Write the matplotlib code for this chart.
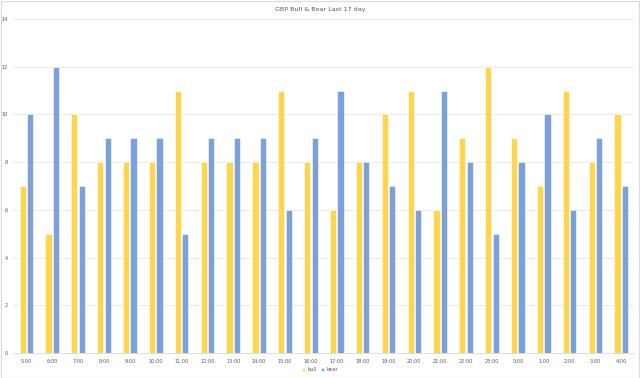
import numpy as np
import matplotlib.pyplot as plt

# Datos
horas = ["5:00", "6:00", "7:00", "8:00", "9:00", "10:00", "11:00", "12:00",
         "13:00", "14:00", "15:00", "16:00", "17:00", "18:00", "19:00", "20:00",
         "21:00", "22:00", "23:00", "0:00", "1:00", "2:00", "3:00", "4:00"]
bull = [7, 5, 10, 8, 8, 8, 11, 8, 8, 8, 11, 8, 6, 8, 10, 11, 6, 9, 12, 9, 7, 11, 8, 10]
bear = [10, 12, 7, 9, 9, 9, 5, 9, 9, 9, 6, 9, 11, 8, 7, 6, 11, 8, 5, 8, 10, 6, 9, 7]

col_bull = "#FFD54F"
col_bear = "#7CA0D8"
gris = "#595959"

fig = plt.figure(figsize=(6.4, 3.78), dpi=100)
ax = fig.add_axes([0.021, 0.066, 0.970, 0.884])

x = np.arange(len(horas))
ancho = 0.24
ax.bar(x - 0.145, bull, ancho, color=col_bull, edgecolor="white", linewidth=0.4,
       label="bull", zorder=3)
ax.bar(x + 0.145, bear, ancho, color=col_bear, edgecolor="white", linewidth=0.4,
       label="bear", zorder=3)

# Ejes
ax.set_xlim(-0.5, len(horas) - 0.5)
ax.set_ylim(0, 14)
ax.set_yticks(range(0, 15, 2))
ax.set_xticks(x)
ax.set_xticklabels(horas)
ax.tick_params(axis="both", length=0, labelsize=3.6, colors=gris, pad=4)
ax.grid(axis="y", color="#E6E6E6", linewidth=0.6, zorder=0)
for s in ["top", "right", "left"]:
    ax.spines[s].set_visible(False)
ax.spines["bottom"].set_color("#D9D9D9")
ax.spines["bottom"].set_linewidth(0.6)

fig.text(0.5, 0.975, "GBP Bull & Bear Last 17 day", ha="center", va="center",
         fontsize=4.6, color=gris)

fig.legend(loc="center", bbox_to_anchor=(0.5, 0.022), ncol=2, frameon=False,
           fontsize=3.6, handlelength=0.6, handleheight=0.6, columnspacing=1.0,
           handletextpad=0.4, labelcolor=gris)

# Borde del grafico
fig.patches.append(plt.Rectangle((0.001, 0.001), 0.997, 0.997, transform=fig.transFigure,
                                 fill=False, edgecolor="#D9D9D9", linewidth=0.8))

fig.savefig("out.png", dpi=100)
